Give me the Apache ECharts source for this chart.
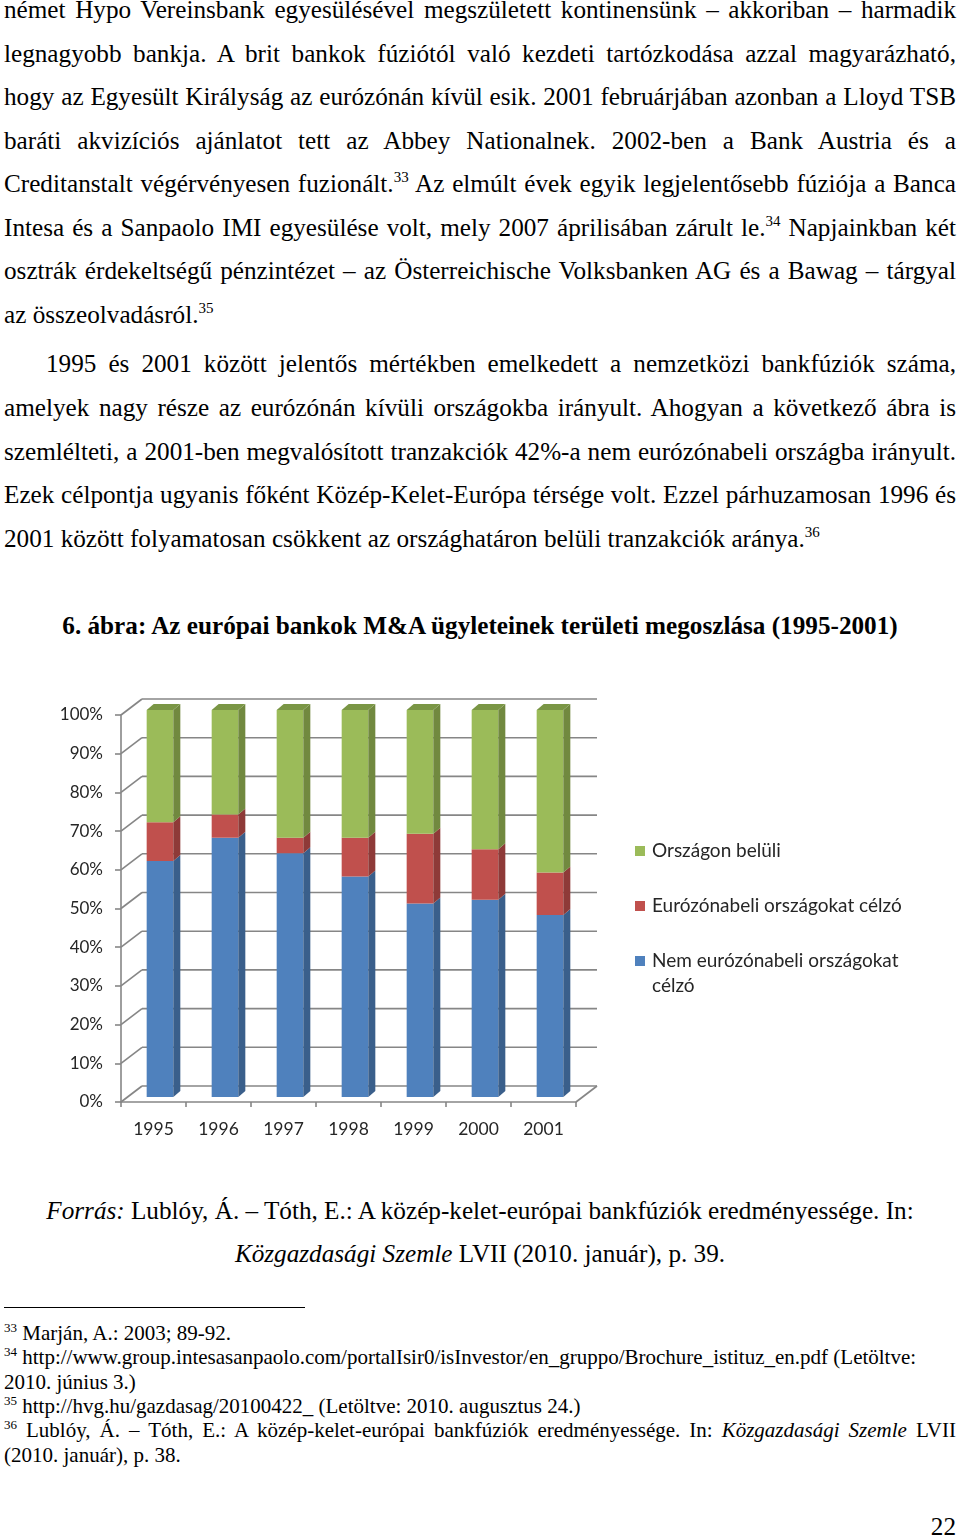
<!DOCTYPE html>
<html>
<head>
<meta charset="utf-8">
<script src="https://cdn.jsdelivr.net/npm/echarts@6/dist/echarts.min.js"></script>
<style>
  html, body { margin:0; padding:0; background:#fff; }
  #page { position:relative; width:960px; height:1537px; overflow:hidden; background:#fff; }
  .ln { position:absolute; left:4px; width:952px; font-family:"Liberation Serif","Times New Roman",serif; font-size:25.2px; line-height:30px; white-space:nowrap; color:#000; }
  .ln span.t { display:inline-block; white-space:nowrap; }
  .sup { font-size:15px; position:relative; top:-10px; line-height:0; }
  .fn { font-size:21px; line-height:26px; }
  .fn .sup { font-size:13px; top:-8px; }
  .c { left:0; width:960px; text-align:center; }
  #chart { position:absolute; left:0; top:680px; width:960px; height:480px; }
  #rule { position:absolute; left:4px; top:1307px; width:301px; height:0; border-top:1.3px solid #000; }
</style>
</head>
<body>
<div id="page">
  <div class="ln j" style="top:-5px"><span class="t">német Hypo Vereinsbank egyesülésével megszületett kontinensünk – akkoriban – harmadik</span></div>
  <div class="ln j" style="top:38.5px"><span class="t">legnagyobb bankja. A brit bankok fúziótól való kezdeti tartózkodása azzal magyarázható,</span></div>
  <div class="ln j" style="top:82px"><span class="t">hogy az Egyesült Királyság az eurózónán kívül esik. 2001 februárjában azonban a Lloyd TSB</span></div>
  <div class="ln j" style="top:125.5px"><span class="t">baráti akvizíciós ajánlatot tett az Abbey Nationalnek. 2002-ben a Bank Austria és a</span></div>
  <div class="ln j" style="top:169px"><span class="t">Creditanstalt végérvényesen fuzionált.<span class="sup">33</span> Az elmúlt évek egyik legjelentősebb fúziója a Banca</span></div>
  <div class="ln j" style="top:212.5px"><span class="t">Intesa és a Sanpaolo IMI egyesülése volt, mely 2007 áprilisában zárult le.<span class="sup">34</span> Napjainkban két</span></div>
  <div class="ln j" style="top:256px"><span class="t">osztrák érdekeltségű pénzintézet – az Österreichische Volksbanken AG és a Bawag – tárgyal</span></div>
  <div class="ln" style="top:299.5px"><span class="t">az összeolvadásról.<span class="sup">35</span></span></div>

  <div class="ln j" style="top:349px;left:46px;width:910px"><span class="t">1995 és 2001 között jelentős mértékben emelkedett a nemzetközi bankfúziók száma,</span></div>
  <div class="ln j" style="top:392.5px"><span class="t">amelyek nagy része az eurózónán kívüli országokba irányult. Ahogyan a következő ábra is</span></div>
  <div class="ln j" style="top:436.5px"><span class="t">szemlélteti, a 2001-ben megvalósított tranzakciók 42%-a nem eurózónabeli országba irányult.</span></div>
  <div class="ln j" style="top:480px"><span class="t">Ezek célpontja ugyanis főként Közép-Kelet-Európa térsége volt. Ezzel párhuzamosan 1996 és</span></div>
  <div class="ln" style="top:523.5px"><span class="t">2001 között folyamatosan csökkent az országhatáron belüli tranzakciók aránya.<span class="sup">36</span></span></div>

  <div class="ln c" style="top:611px;font-weight:bold"><span class="t">6. ábra: Az európai bankok M&amp;A ügyleteinek területi megoszlása (1995-2001)</span></div>

  <div id="chart"></div>

  <div class="ln c" style="top:1196px"><span class="t"><i>Forrás:</i> Lublóy, Á. – Tóth, E.: A közép-kelet-európai bankfúziók eredményessége. In:</span></div>
  <div class="ln c" style="top:1239px"><span class="t"><i>Közgazdasági Szemle</i> LVII (2010. január), p. 39.</span></div>

  <div id="rule"></div>
  <div class="ln fn" style="top:1320px"><span class="t"><span class="sup">33</span> Marján, A.: 2003; 89-92.</span></div>
  <div class="ln fn" style="top:1344px"><span class="t"><span class="sup">34</span> http://www.group.intesasanpaolo.com/portalIsir0/isInvestor/en_gruppo/Brochure_istituz_en.pdf (Letöltve:</span></div>
  <div class="ln fn" style="top:1369px"><span class="t">2010. június 3.)</span></div>
  <div class="ln fn" style="top:1393px"><span class="t"><span class="sup">35</span> http://hvg.hu/gazdasag/20100422_ (Letöltve: 2010. augusztus 24.)</span></div>
  <div class="ln fn j" style="top:1417px"><span class="t"><span class="sup">36</span> Lublóy, Á. – Tóth, E.: A közép-kelet-európai bankfúziók eredményessége. In: <i>Közgazdasági Szemle</i> LVII</span></div>
  <div class="ln fn" style="top:1442px"><span class="t">(2010. január), p. 38.</span></div>

  <div class="ln" style="top:1512px;text-align:right"><span class="t">22</span></div>
</div>

<script>
// ---- data ----
const years = ['1995', '1996', '1997', '1998', '1999', '2000', '2001'];
const nemEurozona = [61, 67, 63, 57, 50, 51, 47];   // Nem eurózónabeli országokat célzó (blue)
const eurozona = [10, 6, 4, 10, 18, 13, 11];        // Eurózónabeli országokat célzó (red)
const orszagon = [29, 27, 33, 33, 32, 36, 42];      // Országon belüli (green)
const yTicks = [0, 10, 20, 30, 40, 50, 60, 70, 80, 90, 100];
const seriesNames = ['Országon belüli', 'Eurózónabeli országokat célzó', 'Nem eurózónabeli országokat célzó'];

// ---- justify lines ----
document.querySelectorAll('.j').forEach(el => {
  const span = el.querySelector('span.t');
  const natural = span.getBoundingClientRect().width;
  const W = el.getBoundingClientRect().width;
  const spaces = (span.textContent.match(/ /g) || []).length;
  if (spaces > 0) span.style.wordSpacing = ((W - natural) / spaces) + 'px';
});

// ---- chart ----
const OX = 6.5, OY = -5, DX = 7, DY = -6;   // 3D bar offsets
const WX = 21, WY = -16;                    // back wall offsets

function stackData(vals, bases) {
  return vals.map((v, i) => [i, bases[i], bases[i] + v]);
}
const base0 = years.map(() => 0);
const base1 = nemEurozona.slice();
const base2 = nemEurozona.map((v, i) => v + eurozona[i]);

function bar3d(name, vals, bases, front, side, top, drawTop) {
  return {
    type: 'custom', name: name, z: 3, clip: false,
    itemStyle: { color: front },
    encode: { x: 0, y: [1, 2] },
    data: stackData(vals, bases),
    renderItem: function (params, api) {
      const i = api.value(0);
      const p0 = api.coord([i, api.value(1)]);
      const p1 = api.coord([i, api.value(2)]);
      const bw = api.size([1, 0])[0];
      const w = bw * 0.41;
      const x = p0[0] - w / 2 + OX;
      const yb = p0[1] + OY, yt = p1[1] + OY;
      const children = [
        { type: 'rect', shape: { x: x, y: yt, width: w, height: yb - yt }, style: { fill: front } },
        { type: 'polygon', shape: { points: [[x + w, yt], [x + w + DX, yt + DY], [x + w + DX, yb + DY], [x + w, yb]] }, style: { fill: side } }
      ];
      if (drawTop) {
        children.push({ type: 'polygon', shape: { points: [[x, yt], [x + DX, yt + DY], [x + w + DX, yt + DY], [x + w, yt]] }, style: { fill: top } });
      }
      return { type: 'group', children: children };
    }
  };
}

const gridSeries = {
  type: 'custom', name: 'grid', z: 1, silent: true, clip: false,
  encode: { x: 0, y: 1 },
  data: yTicks.map(t => [0, t]),
  renderItem: function (params, api) {
    const cs = params.coordSys;
    const t = api.value(1);
    const y = api.coord([0, t])[1];
    const x0 = cs.x, x1 = cs.x + cs.width;
    const st = { stroke: '#868686', lineWidth: 1.6 };
    const ch = [
      { type: 'line', shape: { x1: x0, y1: y, x2: x0 + WX, y2: y + WY }, style: st },
      { type: 'line', shape: { x1: x0 + WX, y1: y + WY, x2: x1 + WX, y2: y + WY }, style: st }
    ];
    if (t === 0) ch.push({ type: 'line', shape: { x1: x1, y1: y, x2: x1 + WX, y2: y + WY }, style: st });
    return { type: 'group', children: ch };
  }
};

const chart = echarts.init(document.getElementById('chart'), null, { renderer: 'canvas' });
chart.setOption({
  animation: false,
  backgroundColor: 'transparent',
  grid: { left: 121, top: 35, width: 455, height: 387, containLabel: false },
  xAxis: {
    type: 'category', data: years,
    axisLine: { lineStyle: { color: '#868686', width: 1.6 } },
    axisTick: { show: true, length: 5, lineStyle: { color: '#868686', width: 1.6 } },
    axisLabel: { margin: 18, fontFamily: 'Lato', fontSize: 17.5, color: '#262626' },
    splitLine: { show: false }
  },
  yAxis: {
    type: 'value', min: 0, max: 100, interval: 10,
    axisLine: { show: true, lineStyle: { color: '#868686', width: 1.6 } },
    axisTick: { show: true, length: 6, lineStyle: { color: '#868686', width: 1.6 } },
    axisLabel: { margin: 18, fontFamily: 'Lato', fontSize: 17, color: '#262626', formatter: '{value}%' },
    splitLine: { show: false }
  },
  legend: {
    data: seriesNames,
    orient: 'vertical', left: 635, top: 161, padding: 0,
    icon: 'rect', itemWidth: 10, itemHeight: 10, itemGap: 35,
    textStyle: { fontFamily: 'Lato', fontSize: 19, color: '#262626', lineHeight: 20, padding: [0, 0, 0, 2] },
    formatter: function (n) { return n === seriesNames[2] ? 'Nem eurózónabeli országokat' : n; },
    selectedMode: false
  },
  graphic: [
    { type: 'text', left: 652, top: 296, style: { text: 'célzó', font: '19px Lato', fill: '#262626' } }
  ],
  series: [
    gridSeries,
    bar3d(seriesNames[2], nemEurozona, base0, '#4F81BD', '#3A5F8B', '#3A5F8B', false),
    bar3d(seriesNames[1], eurozona, base1, '#C0504D', '#8E3A38', '#8E3A38', false),
    bar3d(seriesNames[0], orszagon, base2, '#9BBB59', '#71893F', '#7A9645', true)
  ]
});
</script>
</body>
</html>
